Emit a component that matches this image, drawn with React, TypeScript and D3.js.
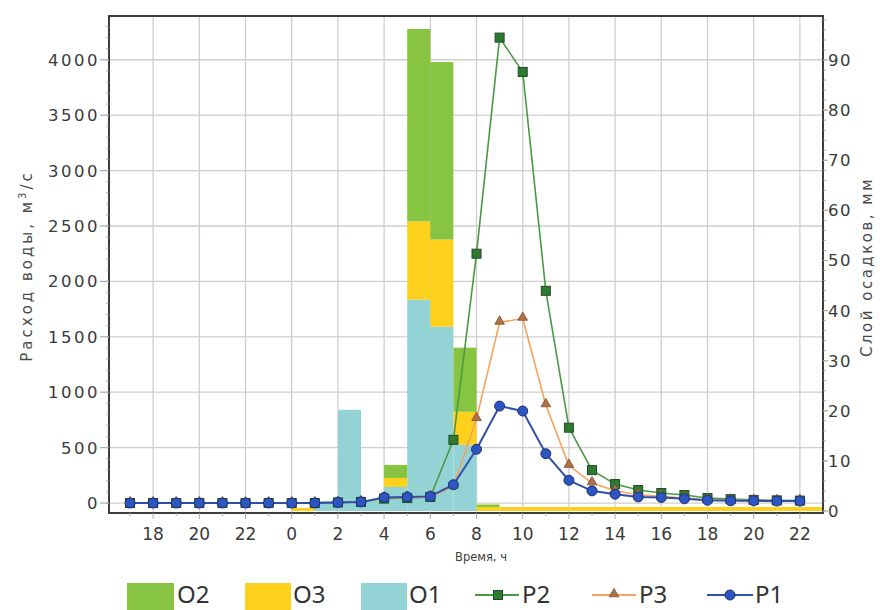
import React from "react";
import * as d3 from "d3";

// hours from 17:00 of day 1 to 22:00 of day 2
const hours = [17, 18, 19, 20, 21, 22, 23, 0, 1, 2, 3, 4, 5, 6, 7, 8, 9, 10, 11, 12, 13, 14, 15, 16, 17, 18, 19, 20, 21, 22];

// precipitation (mm) per hour interval starting at hours[i]
const O1 = [0, 0, 0, 0, 0, 0, 0, 0, 2, 20.2, 2, 4.8, 42.2, 36.8, 13.2, 0, 0, 0, 0, 0, 0, 0, 0, 0, 0, 0, 0, 0, 0, 0];
const O3 = [0, 0, 0, 0, 0, 0, 0, 0.6, 0, 0, 0, 1.8, 15.6, 17.4, 6.6, 0.8, 0.8, 0.8, 0.8, 0.8, 0.8, 0.8, 0.8, 0.8, 0.8, 0.8, 0.8, 0.8, 0.8, 0.8];
const O2 = [0, 0, 0, 0, 0, 0, 0, 0, 0, 0, 0, 2.6, 38.4, 35.4, 12.8, 0.5, 0, 0, 0, 0, 0, 0, 0, 0, 0, 0, 0, 0, 0, 0];

// discharge (m3/s)
const P2 = [0, 0, 0, 0, 0, 0, 0, 0, 0, 5, 10, 40, 45, 55, 570, 2250, 4200, 3890, 1915, 680, 297, 171, 117, 90, 72, 45, 35, 28, 24, 22];
const P3 = [0, 0, 0, 0, 0, 0, 0, 0, 0, 5, 10, 45, 50, 55, 150, 760, 1630, 1665, 885, 338, 180, 110, 75, 60, 45, 30, 25, 22, 20, 20];
const P1 = [0, 0, 0, 0, 0, 0, 0, 0, 0, 5, 10, 50, 55, 60, 165, 485, 875, 830, 445, 205, 110, 80, 55, 50, 38, 25, 20, 20, 18, 18];

const leftTicks = [0, 500, 1000, 1500, 2000, 2500, 3000, 3500, 4000];
const rightTicks = [0, 10, 20, 30, 40, 50, 60, 70, 80, 90];

const C_O2 = "#86c441";
const C_O3 = "#fdd01c";
const C_O1 = "#93d3d6";
const C_P2 = "#4a9a45";
const C_P3 = "#f4a45c";
const C_P1 = "#2f4fa8";

export default function App() {
  const L = 109, R = 823, T = 16, B = 513;
  const x = d3.scaleLinear().domain([-0.91, 30]).range([L, R]);
  const yL = d3.scaleLinear().domain([-90, 4395]).range([B, T]);
  const yR = d3.scaleLinear().domain([-0.4, 98.8]).range([B, T]);

  const rows = hours.map((h, i) => ({ i, O1: O1[i], O3: O3[i], O2: O2[i] }));
  const stack = d3.stack<any>().keys(["O1", "O3", "O2"])(rows);
  const colors: Record<string, string> = { O1: C_O1, O3: C_O3, O2: C_O2 };

  const tickIdx = hours.map((h, i) => (h % 2 === 0 ? i : -1)).filter((i) => i >= 0);

  const line = (arr: number[]) =>
    d3.line<number>().x((_, i) => x(i)).y((v) => yL(v))(arr) || "";

  const font = "'DejaVu Sans', Verdana, sans-serif";
  const tri = d3.symbol().type(d3.symbolTriangle).size(40)() || "";

  const leftMinor = d3.range(0, 4400, 100);
  const rightMinor = d3.range(0, 99, 2);

  return (
    <svg width={880} height={610} style={{ position: "absolute", left: 0, top: 0, background: "#fff" }}>
      <rect x={0} y={0} width={880} height={610} fill="#fff" />
      {/* grid */}
      {tickIdx.map((i) => (
        <line key={"vg" + i} x1={x(i)} x2={x(i)} y1={T} y2={B} stroke="#d2cdcd" strokeWidth={1.3} />
      ))}
      {leftTicks.map((v) => (
        <line key={"hg" + v} x1={L} x2={R} y1={yL(v)} y2={yL(v)} stroke="#d2cdcd" strokeWidth={1.3} />
      ))}
      {/* bars */}
      {stack.map((s) =>
        s.map((d, j) =>
          d[1] - d[0] > 0 ? (
            <rect
              key={s.key + j}
              x={x(j)}
              width={x(j + 1) - x(j)}
              y={yR(d[1])}
              height={yR(d[0]) - yR(d[1])}
              fill={colors[s.key]}
            />
          ) : null
        )
      )}
      {/* lines */}
      <path d={line(P2)} fill="none" stroke={C_P2} strokeWidth={1.6} />
      {P2.map((v, i) => (
        <rect key={"m2" + i} x={x(i) - 4.5} y={yL(v) - 4.5} width={9} height={9} fill="#2f7a33" stroke="#1e4a22" strokeWidth={1} />
      ))}
      <path d={line(P3)} fill="none" stroke={C_P3} strokeWidth={1.6} />
      {P3.map((v, i) => (
        <path key={"m3" + i} d={tri} transform={`translate(${x(i)},${yL(v) - 1})`} fill="#b07244" stroke="#7d4c2a" strokeWidth={0.8} />
      ))}
      <path d={line(P1)} fill="none" stroke={C_P1} strokeWidth={2} />
      {P1.map((v, i) => (
        <circle key={"m1" + i} cx={x(i)} cy={yL(v)} r={5} fill="#2d56c2" stroke="#1c2f70" strokeWidth={1} />
      ))}
      {/* frame */}
      <rect x={L} y={T} width={R - L} height={B - T} fill="none" stroke="#3d3d3d" strokeWidth={2} />
      {/* left axis ticks */}
      {leftMinor.map((v) => (
        <line key={"lm" + v} x1={L - 3} x2={L} y1={yL(v)} y2={yL(v)} stroke="#999" strokeWidth={0.8} />
      ))}
      {leftTicks.map((v) => (
        <g key={"lt" + v}>
          <line x1={L - 9} x2={L} y1={yL(v)} y2={yL(v)} stroke="#aaa" strokeWidth={1.2} />
          <text x={L - 9} y={yL(v)} dy="0.36em" textAnchor="end" fontFamily={font} fontSize={16.5} letterSpacing={2.5} fill="#3a3a3a">
            {v}
          </text>
        </g>
      ))}
      {/* right axis ticks */}
      {rightMinor.map((v) => (
        <line key={"rm" + v} x1={R} x2={R + 3} y1={yR(v)} y2={yR(v)} stroke="#999" strokeWidth={0.8} />
      ))}
      {rightTicks.map((v) => (
        <g key={"rt" + v}>
          <line x1={R} x2={R + 5} y1={yR(v)} y2={yR(v)} stroke="#aaa" strokeWidth={1.2} />
          <text x={R + 5} y={yR(v)} dy="0.36em" textAnchor="start" fontFamily={font} fontSize={16.5} letterSpacing={1.5} fill="#3a3a3a">
            {v}
          </text>
        </g>
      ))}
      {/* bottom ticks */}
      {hours.map((h, i) => (
        <line key={"bt" + i} x1={x(i)} x2={x(i)} y1={B} y2={B + (h % 2 === 0 ? 6 : 3)} stroke="#aaa" strokeWidth={1} />
      ))}
      {tickIdx.map((i) => (
        <text key={"bl" + i} x={x(i)} y={540} textAnchor="middle" fontFamily={font} fontSize={17} fill="#3a3a3a">
          {hours[i]}
        </text>
      ))}
      {/* axis titles */}
      <text transform="translate(32,266) rotate(-90)" textAnchor="middle" fontFamily={font} fontSize={15} letterSpacing={3} fill="#4a4a4a">
        Расход воды, м<tspan dy={-6} fontSize={10}>3</tspan>
        <tspan dy={6}>/с</tspan>
      </text>
      <text transform="translate(872,267) rotate(-90)" textAnchor="middle" fontFamily={font} fontSize={15} letterSpacing={2.5} fill="#4a4a4a">
        Слой осадков, мм
      </text>
      <text x={481} y={561} textAnchor="middle" fontFamily={font} fontSize={11.5} fill="#404040">
        Время, ч
      </text>
      {/* legend */}
      <g fontFamily="'Noto Sans', sans-serif" fontSize={24} fill="#333">
        <rect x={127} y={583} width={47} height={27} fill={C_O2} />
        <text x={177} y={603}>O2</text>
        <rect x={245} y={583} width={46} height={27} fill={C_O3} />
        <text x={293} y={603}>O3</text>
        <rect x={361} y={583} width={46} height={27} fill={C_O1} />
        <text x={409} y={603}>O1</text>

        <line x1={475} x2={519} y1={595} y2={595} stroke={C_P2} strokeWidth={2} />
        <rect x={493.5} y={590.5} width={9} height={9} fill="#2f7a33" stroke="#1e4a22" strokeWidth={1} />
        <text x={522} y={603}>P2</text>

        <line x1={592} x2={636} y1={595} y2={595} stroke={C_P3} strokeWidth={2} />
        <path d={tri} transform="translate(614,594)" fill="#b07244" stroke="#7d4c2a" strokeWidth={0.8} />
        <text x={639} y={603}>P3</text>

        <line x1={707} x2={753} y1={595} y2={595} stroke={C_P1} strokeWidth={2} />
        <circle cx={730} cy={595} r={5} fill="#2d56c2" stroke="#1c2f70" strokeWidth={1} />
        <text x={755} y={603}>P1</text>
      </g>
    </svg>
  );
}
